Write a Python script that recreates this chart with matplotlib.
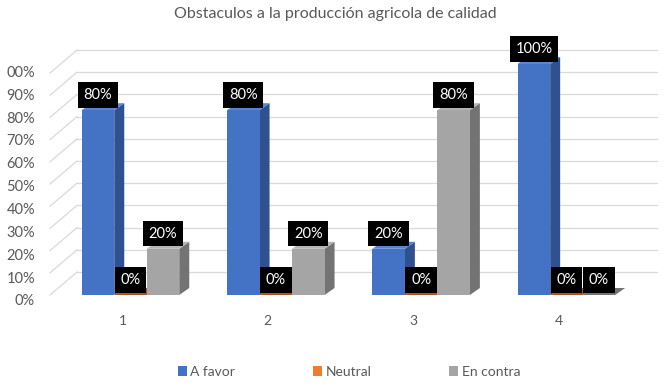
import matplotlib
matplotlib.use("Agg")
import matplotlib.pyplot as plt
from matplotlib.patches import Polygon, Patch

plt.rcParams["font.family"] = ["Lato", "DejaVu Sans"]

TITLE = "Obstaculos a la producción agricola de calidad"
CATEGORIES = ["1", "2", "3", "4"]
SERIES = ["A favor", "Neutral", "En contra"]
A_FAVOR = [0.80, 0.80, 0.20, 1.00]
NEUTRAL = [0.00, 0.00, 0.00, 0.00]
EN_CONTRA = [0.20, 0.20, 0.80, 0.00]
Y_TICKS = [0.0, 0.1, 0.2, 0.3, 0.4, 0.5, 0.6, 0.7, 0.8, 0.9, 1.0]
# the top label is shown cut at the chart edge in the original ("100%" -> "00%")
Y_TICK_LABELS = ["0%", "10%", "20%", "30%", "40%", "50%", "60%", "70%", "80%", "90%", "00%"]

# front / side / top face colours per series
COLORS = {
    "A favor": ("#4472C4", "#2F5190", "#5A84CF"),
    "Neutral": ("#ED7D31", "#A9561F", "#C9621F"),
    "En contra": ("#A5A5A5", "#737373", "#B4B4B4"),
}
TEXT_GREY = "#595959"
GRID = "#D9D9D9"

# fake 3d geometry (data units)
BAR_W = 0.2237
DX, DY = 0.0688, 0.0303      # depth offset of side/top faces
GRID_SCALE = 0.961           # gridlines are slightly compressed (perspective)
BACK_DY = 0.0996             # back wall raised above front edge
GRID_X0, GRID_X1, GRID_XR = 0.446, 0.632, 4.624

fig = plt.figure(figsize=(6.69, 3.88), dpi=100)
ax = fig.add_axes([0, 0, 1, 1])
ax.set_xlim(0.1018, 4.706)
ax.set_ylim(-0.4026, 1.277)
ax.axis("off")

# walls: diagonal side lines + back wall lines
for t in Y_TICKS:
    yf = t * GRID_SCALE
    yb = yf + BACK_DY
    ax.plot([GRID_X0, GRID_X1], [yf, yb], color=GRID, lw=0.9, zorder=1)
    ax.plot([GRID_X1, GRID_XR], [yb, yb], color=GRID, lw=0.9, zorder=1)

for t, lab in zip(Y_TICKS, Y_TICK_LABELS):
    ax.text(0.343, t * 0.99 - 0.028, lab, ha="right", va="center",
            fontsize=10.5, color=TEXT_GREY)

data = {"A favor": A_FAVOR, "Neutral": NEUTRAL, "En contra": EN_CONTRA}
x_pos = [i + 1 for i in range(len(CATEGORIES))]

z = 2
for i, xc in enumerate(x_pos):
    for j, name in enumerate(SERIES):
        v = data[name][i]
        front, side, top = COLORS[name]
        x0 = xc + (j - 1) * BAR_W - BAR_W / 2
        x1 = x0 + BAR_W
        # side face
        ax.add_patch(Polygon([(x1, 0), (x1 + DX, DY), (x1 + DX, v + DY), (x1, v)],
                             closed=True, facecolor=side, edgecolor="none", zorder=z))
        # top face
        ax.add_patch(Polygon([(x0, v), (x0 + DX, v + DY), (x1 + DX, v + DY), (x1, v)],
                             closed=True, facecolor=top if v > 0 else side,
                             edgecolor="none", zorder=z + 1))
        # front face
        ax.bar(x0, v, width=BAR_W, align="edge", color=front, zorder=z + 2)
        z += 3

# data labels
for i, xc in enumerate(x_pos):
    for j, name in enumerate(SERIES):
        v = data[name][i]
        xm = xc + (j - 1) * BAR_W
        ax.text(xm, v + 0.066, f"{int(round(v * 100))}%", ha="center", va="center",
                fontsize=10.5, color="white", zorder=200,
                bbox=dict(boxstyle="square,pad=0.4", facecolor="black", edgecolor="none"))

# category labels
for xc, lab in zip(x_pos, CATEGORIES):
    ax.text(xc - 0.055, -0.1126, lab, ha="center", va="center",
            fontsize=10, color=TEXT_GREY)

fig.text(335 / 669, 1 - 14 / 388, TITLE, ha="center", va="center",
         fontsize=11.5, color=TEXT_GREY)

handles = [Patch(facecolor=COLORS[s][0], edgecolor="none", label=s) for s in SERIES]
leg = fig.legend(handles=handles, loc="center", bbox_to_anchor=(349 / 669, 1 - 372 / 388),
                 ncol=3, frameon=False, fontsize=10, handlelength=0.65, handleheight=0.65,
                 handletextpad=0.25, columnspacing=5.6)
for t in leg.get_texts():
    t.set_color(TEXT_GREY)

fig.savefig("out.png", dpi=100)
